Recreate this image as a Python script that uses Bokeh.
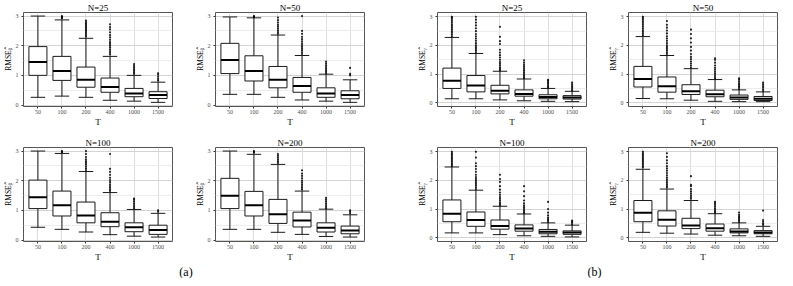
from bokeh.plotting import figure
from bokeh.models import Range1d, FixedTicker, Label, ColumnDataSource, Spacer
from bokeh.layouts import row, column
from bokeh.transform import dodge
from bokeh.embed import file_html
from bokeh.resources import INLINE

T_LABELS = ["50", "100", "200", "400", "1000", "1500"]

# ---------------- (a) RMSE beta ----------------
A25_TITLE = "N=25"
A25_LOW = [0.26, 0.30, 0.26, 0.16, 0.13, 0.09]
A25_Q1 = [1.00, 0.83, 0.60, 0.43, 0.28, 0.22]
A25_MED = [1.45, 1.15, 0.85, 0.61, 0.39, 0.34]
A25_Q3 = [1.97, 1.64, 1.28, 0.91, 0.56, 0.45]
A25_UP = [3.00, 2.87, 2.25, 1.64, 1.00, 0.77]
A25_OUT = [[], [2.92, 2.95, 2.97, 3.0],
           [2.3, 2.35, 2.4, 2.45, 2.5, 2.55, 2.6, 2.65, 2.7, 2.75, 2.8, 2.85],
           [1.7, 1.76, 1.82, 1.88, 1.94, 2.0, 2.06, 2.12, 2.2, 2.28, 2.36, 2.45, 2.55, 2.63, 2.72],
           [1.05, 1.1, 1.15, 1.2, 1.26, 1.32, 1.38],
           [0.82, 0.88, 0.95, 1.02, 1.07]]

A50_TITLE = "N=50"
A50_LOW = [0.36, 0.36, 0.26, 0.17, 0.13, 0.09]
A50_Q1 = [1.06, 0.81, 0.58, 0.43, 0.26, 0.21]
A50_MED = [1.52, 1.15, 0.85, 0.64, 0.39, 0.34]
A50_Q3 = [2.08, 1.66, 1.30, 0.93, 0.58, 0.48]
A50_UP = [2.97, 2.94, 2.36, 1.67, 1.04, 0.85]
A50_OUT = [[], [2.96, 2.98, 3.0],
           [2.4, 2.46, 2.52, 2.58, 2.64, 2.7, 2.78, 2.86, 2.95],
           [1.72, 1.78, 1.84, 1.9, 1.96, 2.02, 2.08, 2.15, 2.22, 2.3, 2.4, 2.5, 3.0],
           [1.07, 1.12, 1.17, 1.22, 1.28, 1.34, 1.4, 1.46],
           [1.0, 1.05, 1.25]]

A100_TITLE = "N=100"
A100_LOW = [0.43, 0.36, 0.27, 0.18, 0.13, 0.10]
A100_Q1 = [1.06, 0.81, 0.58, 0.45, 0.28, 0.19]
A100_MED = [1.44, 1.17, 0.83, 0.62, 0.43, 0.34]
A100_Q3 = [2.02, 1.65, 1.28, 0.92, 0.58, 0.50]
A100_UP = [3.00, 2.92, 2.31, 1.60, 1.03, 0.90]
A100_OUT = [[], [2.95, 2.98, 3.0],
            [2.36, 2.42, 2.48, 2.54, 2.6, 2.66, 2.72, 2.8, 2.9, 3.0],
            [1.65, 1.7, 1.76, 1.82, 1.88, 1.95, 2.02, 2.1, 2.2, 2.3, 2.4, 2.9],
            [1.07, 1.12, 1.18, 1.24, 1.3, 1.36, 1.4],
            [0.95, 1.0]]

A200_TITLE = "N=200"
A200_LOW = [0.36, 0.36, 0.26, 0.19, 0.12, 0.10]
A200_Q1 = [1.06, 0.81, 0.56, 0.44, 0.27, 0.21]
A200_MED = [1.49, 1.17, 0.87, 0.66, 0.41, 0.32]
A200_Q3 = [2.08, 1.64, 1.37, 0.94, 0.58, 0.47]
A200_UP = [3.00, 2.89, 2.55, 1.65, 1.04, 0.85]
A200_OUT = [[], [2.94, 2.97, 3.0],
            [2.6, 2.66, 2.72, 2.78, 2.84, 2.9],
            [1.7, 1.76, 1.82, 1.88, 1.94, 2.0, 2.08, 2.16, 2.24, 2.35],
            [1.07, 1.12, 1.18, 1.24, 1.3, 1.36, 1.42],
            [0.9, 0.95, 1.0]]

# ---------------- (b) RMSE gamma ----------------
B25_TITLE = "N=25"
B25_LOW = [0.14, 0.14, 0.10, 0.07, 0.05, 0.04]
B25_Q1 = [0.50, 0.38, 0.31, 0.23, 0.14, 0.13]
B25_MED = [0.77, 0.60, 0.42, 0.31, 0.20, 0.18]
B25_Q3 = [1.21, 0.95, 0.61, 0.45, 0.28, 0.25]
B25_UP = [2.28, 1.72, 1.10, 0.83, 0.50, 0.40]
B25_OUT = [[2.32, 2.38, 2.44, 2.5, 2.56, 2.62, 2.68, 2.74, 2.8, 2.86, 2.92, 2.97, 3.0],
           [1.76, 1.82, 1.88, 1.94, 2.0, 2.08, 2.16, 2.24, 2.32, 2.4, 2.5, 2.6, 2.7, 2.8, 2.9, 3.0],
           [1.13, 1.18, 1.24, 1.3, 1.36, 1.42, 1.5, 1.58, 1.66, 1.75, 1.85, 2.05, 2.15, 2.3, 2.65],
           [0.86, 0.9, 0.95, 1.0, 1.06, 1.12, 1.18, 1.25, 1.32, 1.4, 1.48],
           [0.53, 0.57, 0.62, 0.67, 0.72, 0.77, 0.8],
           [0.43, 0.48, 0.53, 0.58, 0.64, 0.7]]

B50_TITLE = "N=50"
B50_LOW = [0.15, 0.14, 0.09, 0.05, 0.04, 0.04]
B50_Q1 = [0.55, 0.37, 0.29, 0.21, 0.12, 0.08]
B50_MED = [0.83, 0.58, 0.40, 0.30, 0.18, 0.14]
B50_Q3 = [1.27, 0.90, 0.63, 0.44, 0.27, 0.22]
B50_UP = [2.31, 1.65, 1.19, 0.81, 0.45, 0.38]
B50_OUT = [[2.36, 2.42, 2.48, 2.54, 2.6, 2.66, 2.72, 2.78, 2.84, 2.9, 2.96, 3.0],
           [1.7, 1.76, 1.82, 1.88, 1.94, 2.0, 2.08, 2.16, 2.24, 2.32, 2.42, 2.52, 2.62, 2.72, 2.85],
           [1.23, 1.3, 1.37, 1.44, 1.52, 1.6, 1.7, 1.82, 1.95, 2.1, 2.25, 2.4, 2.55],
           [0.85, 0.9, 0.96, 1.02, 1.08, 1.15, 1.22, 1.3, 1.4, 1.5, 1.55],
           [0.48, 0.53, 0.58, 0.63, 0.68, 0.74, 0.8, 0.85],
           [0.41, 0.46, 0.52, 0.58, 0.64, 0.7]]

B100_TITLE = "N=100"
B100_LOW = [0.17, 0.17, 0.11, 0.07, 0.05, 0.03]
B100_Q1 = [0.56, 0.40, 0.30, 0.23, 0.14, 0.12]
B100_MED = [0.84, 0.62, 0.41, 0.32, 0.21, 0.18]
B100_Q3 = [1.32, 0.90, 0.62, 0.45, 0.29, 0.24]
B100_UP = [2.47, 1.66, 1.10, 0.83, 0.52, 0.44]
B100_OUT = [[2.5, 2.55, 2.6, 2.65, 2.7, 2.75, 2.8, 2.85, 2.9, 2.95, 3.0],
            [1.7, 1.76, 1.82, 1.88, 1.94, 2.0, 2.06, 2.12, 2.2, 2.3, 2.4, 2.5, 2.6, 2.8, 3.0],
            [1.13, 1.18, 1.24, 1.3, 1.36, 1.42, 1.5, 1.58, 1.68, 1.8, 1.95, 2.05, 2.2],
            [0.86, 0.9, 0.95, 1.0, 1.06, 1.12, 1.2, 1.3, 1.45, 1.62, 1.8],
            [0.55, 0.6, 0.65, 0.7, 0.78, 0.88, 1.0, 1.25],
            [0.47, 0.52, 0.56, 0.6]]

B200_TITLE = "N=200"
B200_LOW = [0.19, 0.16, 0.13, 0.09, 0.07, 0.05]
B200_Q1 = [0.56, 0.41, 0.32, 0.23, 0.17, 0.14]
B200_MED = [0.87, 0.63, 0.43, 0.33, 0.22, 0.18]
B200_Q3 = [1.30, 0.94, 0.68, 0.48, 0.31, 0.25]
B200_UP = [2.39, 1.70, 1.30, 0.84, 0.52, 0.40]
B200_OUT = [[2.45, 2.5, 2.55, 2.6, 2.65, 2.7, 2.75, 2.8, 2.85, 2.9, 2.95, 3.0],
            [1.75, 1.8, 1.86, 1.92, 1.98, 2.04, 2.1, 2.18, 2.26, 2.34, 2.42, 2.5, 2.6, 2.7, 2.82, 2.95],
            [1.36, 1.42, 1.48, 1.55, 1.62, 1.7, 1.8, 1.85, 2.15],
            [0.87, 0.92, 0.97, 1.02, 1.08, 1.14, 1.2, 1.25],
            [0.55, 0.6, 0.65, 0.7, 0.75, 0.8, 0.88],
            [0.45, 0.5, 0.56, 0.62, 0.95]]

Y_TICKS = [0, 1, 2, 3]
Y_MINOR = [0.5, 1.5, 2.5]
YLABEL_A = "RMSE\u1D66\u0302"
YLABEL_B = "RMSE\u1D67\u0302"
PANEL_TAGS = ["(a)", "(b)"]

SERIF = "Liberation Serif"
FRAME_W = 149
FRAME_H = 94
XPOS = list(range(1, len(T_LABELS) + 1))


def panel(title, low, q1, med, q3, up, outl, ylabel, yr, left, right, top, bottom):
    p = figure(x_range=Range1d(0.4, len(T_LABELS) + 0.6),
               y_range=Range1d(*yr), frame_width=FRAME_W, frame_height=FRAME_H,
               output_backend="svg", toolbar_location=None, title=title,
               min_border_left=left, min_border_right=right,
               min_border_top=top, min_border_bottom=bottom)
    p.title.align = "center"
    p.title.text_font = SERIF
    p.title.text_font_size = "9px"
    p.title.text_font_style = "normal"
    p.title.text_color = "black"
    p.title.standoff = 0
    p.title.offset = 0

    src = ColumnDataSource(dict(x=XPOS, low=low, q1=q1, med=med, q3=q3, up=up))
    col = "#1a1a1a"
    p.segment(x0="x", y0="q3", x1="x", y1="up", source=src, line_color=col, line_width=1)
    p.segment(x0="x", y0="q1", x1="x", y1="low", source=src, line_color=col, line_width=1)
    p.vbar(x="x", bottom="q1", top="q3", width=0.75, source=src, fill_color="white",
           line_color=col, line_width=1)
    p.segment(x0=dodge("x", -0.375), x1=dodge("x", 0.375),
              y0="med", y1="med", source=src, line_color="black", line_width=2)
    for key in ("up", "low"):
        p.segment(x0=dodge("x", -0.3), x1=dodge("x", 0.3),
                  y0=key, y1=key, source=src, line_color=col, line_width=1)
    ox = [XPOS[i] for i, vals in enumerate(outl) for _ in vals]
    oy = [v for vals in outl for v in vals]
    p.scatter(ox, oy, size=2.2, fill_color="black", line_color=None, fill_alpha=0.85)

    p.xaxis.axis_label = "T"
    p.xaxis.ticker = FixedTicker(ticks=XPOS, minor_ticks=[])
    p.xaxis.major_label_overrides = {xp: lab for xp, lab in zip(XPOS, T_LABELS)}
    p.yaxis.axis_label = ylabel
    p.yaxis.ticker = FixedTicker(ticks=Y_TICKS, minor_ticks=Y_MINOR)
    for ax in (p.xaxis[0], p.yaxis[0]):
        ax.major_label_text_font = SERIF
        ax.major_label_text_font_size = "6px"
        ax.major_label_text_color = "#4d4d4d"
        ax.axis_label_text_font = SERIF
        ax.axis_label_text_font_style = "normal"
        ax.axis_label_text_color = "black"
        ax.axis_label_text_font_size = "9px"
        ax.axis_line_color = None
        ax.major_tick_in = 0
        ax.major_tick_out = 2
        ax.major_tick_line_color = "#333333"
        ax.minor_tick_line_color = None
        ax.major_label_standoff = 1
        ax.axis_label_standoff = 0
    p.yaxis.axis_label_text_font_size = "7.5px"
    p.ygrid.grid_line_color = "#d4d4d4"
    p.ygrid.minor_grid_line_color = "#ececec"
    p.xgrid.grid_line_color = "#dedede"
    p.outline_line_color = "#555555"
    p.outline_line_width = 1
    p.background_fill_color = "white"
    p.border_fill_color = "white"
    return p


YR_A = (-0.05, 3.12)
YR_B = (-0.13, 3.15)
BOT = 23
TOP1 = 10
TOP2 = 18

p1 = panel(A25_TITLE, A25_LOW, A25_Q1, A25_MED, A25_Q3, A25_UP, A25_OUT, YLABEL_A, YR_A, 22, 20, TOP1, BOT)
p2 = panel(A50_TITLE, A50_LOW, A50_Q1, A50_MED, A50_Q3, A50_UP, A50_OUT, YLABEL_A, YR_A, 19, 8, TOP1, BOT)
p5 = panel(B25_TITLE, B25_LOW, B25_Q1, B25_MED, B25_Q3, B25_UP, B25_OUT, YLABEL_B, YR_B, 22, 19, TOP1, BOT)
p6 = panel(B50_TITLE, B50_LOW, B50_Q1, B50_MED, B50_Q3, B50_UP, B50_OUT, YLABEL_B, YR_B, 22, 3, TOP1, BOT)

p3 = panel(A100_TITLE, A100_LOW, A100_Q1, A100_MED, A100_Q3, A100_UP, A100_OUT, YLABEL_A, YR_A, 22, 20, TOP2, BOT)
p4 = panel(A200_TITLE, A200_LOW, A200_Q1, A200_MED, A200_Q3, A200_UP, A200_OUT, YLABEL_A, YR_A, 19, 8, TOP2, BOT)
p7 = panel(B100_TITLE, B100_LOW, B100_Q1, B100_MED, B100_Q3, B100_UP, B100_OUT, YLABEL_B, YR_B, 22, 19, TOP2, BOT)
p8 = panel(B200_TITLE, B200_LOW, B200_Q1, B200_MED, B200_Q3, B200_UP, B200_OUT, YLABEL_B, YR_B, 22, 3, TOP2, BOT)

# strip with the (a) / (b) sub-figure tags
TAG_W, TAG_H = 777, 14
tags = figure(width=TAG_W, height=TAG_H, x_range=Range1d(0, TAG_W), y_range=Range1d(0, TAG_H),
              output_backend="svg", toolbar_location=None, min_border=0,
              x_axis_location=None, y_axis_location=None)
tags.outline_line_color = None
tags.grid.visible = False
for txt, tx in zip(PANEL_TAGS, [185.5, 594]):
    tags.add_layout(Label(x=tx, y=7, text=txt, text_font=SERIF, text_font_size="12px",
                          text_align="center", text_baseline="middle", text_color="black"))

layout = column(row(p1, p2, Spacer(width=42, height=10), p5, p6),
                row(p3, p4, Spacer(width=42, height=10), p7, p8),
                tags)

open("out.html", "w").write(file_html(layout, INLINE))
